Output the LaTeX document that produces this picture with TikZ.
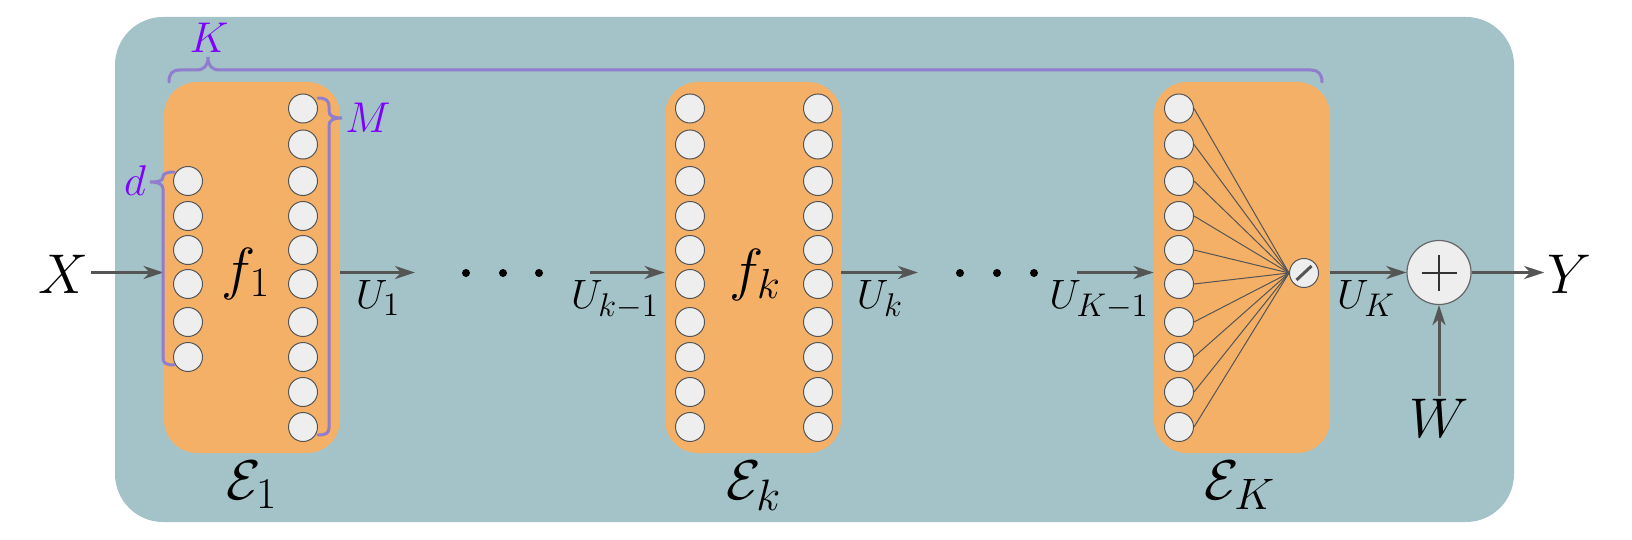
\RequirePackage{fix-cm}
\documentclass[tikz,border=0pt]{standalone}
\usetikzlibrary{arrows.meta}
\definecolor{tealbg}{RGB}{163,195,200}
\definecolor{blockor}{RGB}{245,176,103}
\definecolor{neur}{RGB}{238,238,238}
\definecolor{edgegray}{RGB}{85,85,85}
\definecolor{bracecol}{RGB}{145,125,205}
\definecolor{labviolet}{RGB}{127,0,255}
\DeclareMathSizes{28}{28}{22}{16}
\DeclareMathSizes{29}{29}{21}{15}
\DeclareMathSizes{20.5}{20.5}{16.4}{12}
\DeclareMathSizes{21.5}{21.5}{16}{12}
\begin{document}
\begin{tikzpicture}[x=0.5pt,y=-0.5pt,
  neuron/.style={circle,draw=edgegray,fill=neur,line width=0.5pt,minimum size=14.5pt,inner sep=0pt},
  blockbox/.style={rounded corners=16.5pt,fill=blockor,minimum width=88pt,minimum height=185.5pt,inner sep=0pt},
  flow/.style={draw=edgegray,line width=1.5pt,-{Stealth[length=10pt,width=6.5pt,inset=3pt]}},
  bigmath/.style={font=\fontsize{28}{30}\selectfont,inner sep=1.2pt,anchor=base},
  fmath/.style={font=\fontsize{29}{31}\selectfont,inner sep=0pt,anchor=base},
  umath/.style={font=\fontsize{20.5}{22}\selectfont,inner sep=0pt,anchor=base},
  vlab/.style={font=\fontsize{21.5}{23}\selectfont,text=labviolet,inner sep=0pt,anchor=base},
  bracepath/.style={draw=bracecol,line width=1.5pt,line cap=round},
  fan/.style={draw=edgegray,line width=0.5pt},
  dotnode/.style={circle,fill=black,minimum size=4pt,inner sep=0pt}]
\useasboundingbox (0,0) rectangle (1632,540);
% background
\fill[tealbg,rounded corners=24pt] (115,17) rectangle (1514,522);
% blocks
\node[blockbox] (blkA) at (252,267.5) {};
\node[blockbox] (blkB) at (753,267.5) {};
\node[blockbox] (blkC) at (1242,267.5) {};
% neurons block 1
\foreach \yy [count=\i] in {181,216,250,284,322,357}
  \node[neuron] (pa\i) at (188,\yy) {};
\foreach \yy [count=\i] in {108.5,144.5,181,216,250,284,322,357,392,427}
  \node[neuron] (pb\i) at (303,\yy) {};
% neurons block k
\foreach \yy [count=\i] in {108.5,144.5,181,216,250,284,322,357,392,427}
  \node[neuron] (ka\i) at (690,\yy) {};
\foreach \yy [count=\i] in {108.5,144.5,181,216,250,284,322,357,392,427}
  \node[neuron] (kb\i) at (818,\yy) {};
% neurons block K
\node[neuron] (sc) at (1304,273) {};
\foreach \yy [count=\i] in {108.5,144.5,181,216,250,284,322,357,392,427}
  \node[neuron] (ma\i) at (1179,\yy) {};
\foreach \i in {1,...,10}
  \draw[fan] (ma\i.east) -- (sc.west);
\draw[edgegray,line width=1.5pt] ([shift={(-7.5,7)}]sc.center) -- ([shift={(7.5,-7)}]sc.center);
% flow coordinates
\coordinate (inA) at ([yshift=-2.5pt]blkA.west);
\coordinate (outA) at ([yshift=-2.5pt]blkA.east);
\coordinate (inB) at ([yshift=-2.5pt]blkB.west);
\coordinate (outB) at ([yshift=-2.5pt]blkB.east);
\coordinate (inC) at ([yshift=-2.5pt]blkC.west);
\coordinate (outC) at ([yshift=-2.5pt]blkC.east);
\coordinate (u1end) at (415,272.5);
\coordinate (ukmstart) at (590,272.5);
\coordinate (ukend) at (918,272.5);
\coordinate (uKmstart) at (1077,272.5);
% labels
\node[bigmath] (X) at (63,293) {$X$};
\node[bigmath] (Y) at (1569,293) {$Y$};
\node[bigmath] (W) at (1439,437) {$W$};
\node[circle,draw=edgegray!90,fill=neur,line width=0.6pt,minimum size=32pt,inner sep=0pt] (plus) at (1439,272.5) {};
\draw[black!80,line width=1pt] ([xshift=-8.75pt]plus.center) -- ([xshift=8.75pt]plus.center);
\draw[black!80,line width=1pt] ([yshift=-9pt]plus.center) -- ([yshift=9pt]plus.center);
\node[fmath] (f1) at (246,288) {$f_1$};
\node[fmath] (fk) at (755,289) {$f_k$};
\node[bigmath] (E1) at (252,499) {$\mathcal{E}_1$};
\node[bigmath] (Ek) at (754,499) {$\mathcal{E}_k$};
\node[bigmath] (EK) at (1240,499) {$\mathcal{E}_K$};
\node[umath] (U1) at (378,308) {$U_1$};
\node[umath] (Ukm) at (615,308) {$U_{k-1}$};
\node[umath] (Uk) at (880,308) {$U_k$};
\node[umath] (UKm) at (1099,308) {$U_{K-1}$};
\node[umath] (UK) at (1366,308) {$U_K$};
\node[vlab] (Klab) at (209,53) {$K$};
\node[vlab] (Mlab) at (368,133) {$M$};
\node[vlab] (dlab) at (135,195) {$d$};
% dots
\node[dotnode] (dotA1) at (466,273) {};
\node[dotnode] (dotA2) at (503,273) {};
\node[dotnode] (dotA3) at (539,273) {};
\node[dotnode] (dotB1) at (960,273) {};
\node[dotnode] (dotB2) at (997,273) {};
\node[dotnode] (dotB3) at (1034,273) {};
% arrows
\draw[flow] (X.east |- inA) -- (inA);
\draw[flow] (outA) -- (u1end);
\draw[flow] (ukmstart) -- (inB);
\draw[flow] (outB) -- (ukend);
\draw[flow] (uKmstart) -- (inC);
\draw[flow] (outC) -- (plus.west);
\draw[flow] (plus.east) -- (Y.west |- plus.east);
\draw[flow] (W.north) -- (plus.south);
% braces
\draw[bracepath] (169,82) .. controls (169,74) and (172,70) .. (180,70) -- (196,70)
  .. controls (204,70) and (208,66) .. (208,57)
  .. controls (208,66) and (212,70) .. (220,70) -- (1311,70)
  .. controls (1318,70) and (1322,74) .. (1322,82);
\draw[bracepath] (318,98) .. controls (326,98) and (329,101) .. (329,106) -- (329,111)
  .. controls (329,116) and (333,118) .. (342,118)
  .. controls (333,118) and (329,120) .. (329,126) -- (329,428)
  .. controls (329,433) and (326,435) .. (318,435);
\draw[bracepath] (174,172) .. controls (166,172) and (163,174) .. (163,177)
  .. controls (163,181) and (158,182) .. (150,182)
  .. controls (158,182) and (163,184) .. (163,189) -- (163,358)
  .. controls (163,363) and (166,365) .. (174,365);
\end{tikzpicture}
\end{document}
